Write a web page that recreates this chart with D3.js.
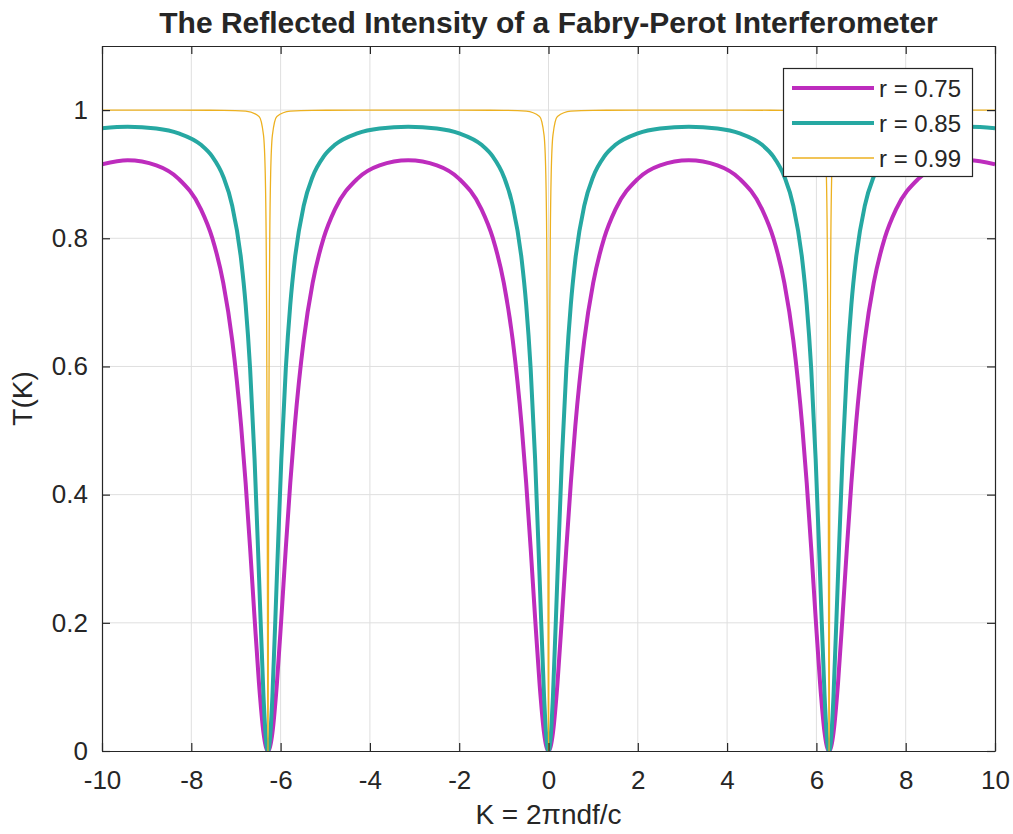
<!DOCTYPE html>
<html>
<head>
<meta charset="utf-8">
<script src="https://cdn.jsdelivr.net/npm/d3@7"></script>
<style>
  html, body { margin: 0; padding: 0; background: #ffffff; }
  svg { display: block; }
  text { font-family: "Liberation Sans", Arial, Helvetica, sans-serif; fill: #262626; }
</style>
</head>
<body>
<svg id="chart" width="1013" height="834"></svg>
<script>
// ---------- data ----------
const kMain = [-10, -9.4248, -8.7832, -8.2832, -7.7832, -7.5332, -7.2832, -7.0832, -6.8832, -6.7832, -6.6832, -6.5832, -6.4832, -6.3832, -6.3332,
  -6.2832, -6.2332, -6.1832, -6.0832, -5.9832, -5.8832, -5.7832, -5.6832, -5.4832, -5.2832, -5.0332, -4.7832, -4.2832, -3.7832,
  -3.1416, -2.5, -2.0, -1.5, -1.25, -1.0, -0.8, -0.6, -0.5, -0.4, -0.3, -0.2, -0.1, -0.05,
  0, 0.05, 0.1, 0.2, 0.3, 0.4, 0.5, 0.6, 0.8, 1.0, 1.25, 1.5, 2.0, 2.5,
  3.1416, 3.7832, 4.2832, 4.7832, 5.0332, 5.2832, 5.4832, 5.6832, 5.7832, 5.8832, 5.9832, 6.0832, 6.1832, 6.2332,
  6.2832, 6.3332, 6.3832, 6.4832, 6.5832, 6.6832, 6.7832, 6.8832, 7.0832, 7.2832, 7.5332, 7.7832, 8.2832, 8.7832, 9.4248, 10];

const r075 = [0.9153, 0.9216, 0.9137, 0.8927, 0.8452, 0.8010, 0.7299, 0.6406, 0.5066, 0.4184, 0.3170, 0.2079, 0.1049, 0.0285, 0.0073,
  0, 0.0073, 0.0285, 0.1049, 0.2079, 0.3170, 0.4184, 0.5066, 0.6406, 0.7299, 0.8010, 0.8452, 0.8927, 0.9137,
  0.9216, 0.9137, 0.8927, 0.8452, 0.8010, 0.7299, 0.6406, 0.5066, 0.4184, 0.3170, 0.2079, 0.1049, 0.0285, 0.0073,
  0, 0.0073, 0.0285, 0.1049, 0.2079, 0.3170, 0.4184, 0.5066, 0.6406, 0.7299, 0.8010, 0.8452, 0.8927, 0.9137,
  0.9216, 0.9137, 0.8927, 0.8452, 0.8010, 0.7299, 0.6406, 0.5066, 0.4184, 0.3170, 0.2079, 0.1049, 0.0285, 0.0073,
  0, 0.0073, 0.0285, 0.1049, 0.2079, 0.3170, 0.4184, 0.5066, 0.6406, 0.7299, 0.8010, 0.8452, 0.8927, 0.9137, 0.9216, 0.9153];

const r085 = [0.9718, 0.9740, 0.9713, 0.9637, 0.9458, 0.9278, 0.8961, 0.8506, 0.7662, 0.6967, 0.5970, 0.4559, 0.2722, 0.0857, 0.0229,
  0, 0.0229, 0.0857, 0.2722, 0.4559, 0.5970, 0.6967, 0.7662, 0.8506, 0.8961, 0.9278, 0.9458, 0.9637, 0.9713,
  0.9740, 0.9713, 0.9637, 0.9458, 0.9278, 0.8961, 0.8506, 0.7662, 0.6967, 0.5970, 0.4559, 0.2722, 0.0857, 0.0229,
  0, 0.0229, 0.0857, 0.2722, 0.4559, 0.5970, 0.6967, 0.7662, 0.8506, 0.8961, 0.9278, 0.9458, 0.9637, 0.9713,
  0.9740, 0.9713, 0.9637, 0.9458, 0.9278, 0.8961, 0.8506, 0.7662, 0.6967, 0.5970, 0.4559, 0.2722, 0.0857, 0.0229,
  0, 0.0229, 0.0857, 0.2722, 0.4559, 0.5970, 0.6967, 0.7662, 0.8506, 0.8961, 0.9278, 0.9458, 0.9637, 0.9713, 0.9740, 0.9718];

const kSharp = [-10, -9.4248, -8.2832, -7.2832, -6.7832, -6.4832, -6.3832, -6.3432, -6.3232, -6.3132, -6.3032, -6.2982, -6.2932, -6.2882,
  -6.2832, -6.2782, -6.2732, -6.2682, -6.2632, -6.2532, -6.2432, -6.2232, -6.1832, -6.0832, -5.7832, -5.2832, -4.2832,
  -3.1416, -2.0, -1.0, -0.5, -0.2, -0.1, -0.06, -0.04, -0.03, -0.02, -0.015, -0.01, -0.005,
  0, 0.005, 0.01, 0.015, 0.02, 0.03, 0.04, 0.06, 0.1, 0.2, 0.5, 1.0, 2.0,
  3.1416, 4.2832, 5.2832, 5.7832, 6.0832, 6.1832, 6.2232, 6.2432, 6.2532, 6.2632, 6.2682, 6.2732, 6.2782,
  6.2832, 6.2882, 6.2932, 6.2982, 6.3032, 6.3132, 6.3232, 6.3432, 6.3832, 6.4832, 6.7832, 7.2832, 8.2832, 9.4248, 10];

const r099 = [0.9999, 0.9999, 0.9999, 0.9996, 0.9984, 0.9901, 0.9611, 0.8991, 0.7984, 0.6902, 0.4975, 0.3577, 0.1984, 0.0583,
  0, 0.0583, 0.1984, 0.3577, 0.4975, 0.6902, 0.7984, 0.8991, 0.9611, 0.9901, 0.9984, 0.9996, 0.9999,
  0.9999, 0.9999, 0.9996, 0.9984, 0.9901, 0.9611, 0.8991, 0.7984, 0.6902, 0.4975, 0.3577, 0.1984, 0.0583,
  0, 0.0583, 0.1984, 0.3577, 0.4975, 0.6902, 0.7984, 0.8991, 0.9611, 0.9901, 0.9984, 0.9996, 0.9999,
  0.9999, 0.9999, 0.9996, 0.9984, 0.9901, 0.9611, 0.8991, 0.7984, 0.6902, 0.4975, 0.3577, 0.1984, 0.0583,
  0, 0.0583, 0.1984, 0.3577, 0.4975, 0.6902, 0.7984, 0.8991, 0.9611, 0.9901, 0.9984, 0.9996, 0.9999, 0.9999, 0.9999];

const seriesNames = ["r = 0.75", "r = 0.85", "r = 0.99"];
const xTicks = [-10, -8, -6, -4, -2, 0, 2, 4, 6, 8, 10];
const xTickLabels = ["-10", "-8", "-6", "-4", "-2", "0", "2", "4", "6", "8", "10"];
const yTicks = [0, 0.2, 0.4, 0.6, 0.8, 1];
const yTickLabels = ["0", "0.2", "0.4", "0.6", "0.8", "1"];
const titleText = "The Reflected Intensity of a Fabry-Perot Interferometer";
const xLabelText = "K = 2\u03C0ndf/c";
const yLabelText = "T(K)";

// ---------- layout ----------
const L = 102, R = 995, T = 46, B = 751;
const svg = d3.select("#chart");
const x = d3.scaleLinear().domain([-10, 10]).range([L, R]);
const y = d3.scaleLinear().domain([0, 1.1]).range([B, T]);
const axisColor = "#262626";
const tickLen = 8;

// grid
const grid = svg.append("g");
grid.selectAll(".gx").data(xTicks.slice(1, -1)).join("line")
  .attr("x1", d => x(d)).attr("x2", d => x(d)).attr("y1", T).attr("y2", B)
  .attr("stroke", "#dfdfdf").attr("stroke-width", 1);
grid.selectAll(".gy").data(yTicks.slice(1)).join("line")
  .attr("x1", L).attr("x2", R).attr("y1", d => y(d)).attr("y2", d => y(d))
  .attr("stroke", "#dfdfdf").attr("stroke-width", 1);

// lines
svg.append("defs").append("clipPath").attr("id", "clip")
  .append("rect").attr("x", L).attr("y", T).attr("width", R - L).attr("height", B - T);
const plot = svg.append("g").attr("clip-path", "url(#clip)");
const line = d3.line().x(d => x(d[0])).y(d => y(d[1])).curve(d3.curveMonotoneX);
const series = [
  { name: seriesNames[0], xs: kMain, ys: r075, color: "#BD2CBD", width: 4 },
  { name: seriesNames[1], xs: kMain, ys: r085, color: "#26A8A2", width: 4 },
  { name: seriesNames[2], xs: kSharp, ys: r099, color: "#EDB120", width: 1.3 }
];
series.forEach(s => {
  plot.append("path")
    .datum(s.xs.map((k, i) => [k, s.ys[i]]))
    .attr("fill", "none").attr("stroke", s.color).attr("stroke-width", s.width)
    .attr("stroke-linejoin", "round")
    .attr("d", line);
});

// axes (box with inward ticks on all sides)
const ax = svg.append("g");
const xb = d3.axisBottom(x).tickValues(xTicks).tickSizeInner(-tickLen).tickSizeOuter(0)
  .tickFormat((d, i) => xTickLabels[i]).tickPadding(20);
const yl = d3.axisLeft(y).tickValues(yTicks).tickSizeInner(-tickLen).tickSizeOuter(0)
  .tickFormat((d, i) => yTickLabels[i]).tickPadding(14);
const xt = d3.axisTop(x).tickValues(xTicks).tickSizeInner(-tickLen).tickSizeOuter(0).tickFormat("");
const yr = d3.axisRight(y).tickValues(yTicks).tickSizeInner(-tickLen).tickSizeOuter(0).tickFormat("");

const gxb = ax.append("g").attr("transform", `translate(0,${B})`).call(xb);
const gyl = ax.append("g").attr("transform", `translate(${L},0)`).call(yl);
const gxt = ax.append("g").attr("transform", `translate(0,${T})`).call(xt);
const gyr = ax.append("g").attr("transform", `translate(${R},0)`).call(yr);
[gxb, gyl, gxt, gyr].forEach(g => {
  g.selectAll("path.domain").attr("stroke", axisColor).attr("stroke-width", 1.2);
  g.selectAll(".tick line").attr("stroke", axisColor).attr("stroke-width", 1.2);
  g.selectAll(".tick text").attr("fill", "#262626").style("font-size", "26px")
    .style("font-family", '"Liberation Sans", Arial, sans-serif');
});
gxb.selectAll(".tick text").attr("dy", "0.71em");

// title and labels
svg.append("text").attr("x", (L + R) / 2).attr("y", 33).attr("text-anchor", "middle")
  .style("font-size", "30px").style("font-weight", "bold").attr("fill", "#000")
  .text(titleText);
svg.append("text").attr("x", (L + R) / 2).attr("y", 824).attr("text-anchor", "middle")
  .style("font-size", "28px").text(xLabelText);
svg.append("text").attr("transform", `translate(32,${(T + B) / 2}) rotate(-90)`).attr("text-anchor", "middle")
  .style("font-size", "28px").text(yLabelText);

// legend
const lg = svg.append("g");
lg.append("rect").attr("x", 783.5).attr("y", 68.5).attr("width", 189).attr("height", 108)
  .attr("fill", "#fff").attr("stroke", axisColor).attr("stroke-width", 1.2);
series.forEach((s, i) => {
  const yy = 88 + i * 35;
  lg.append("line").attr("x1", 792).attr("x2", 874).attr("y1", yy).attr("y2", yy)
    .attr("stroke", s.color).attr("stroke-width", s.width);
  lg.append("text").attr("x", 879).attr("y", yy + 8.5).style("font-size", "24px").text(s.name);
});
</script>
</body>
</html>
